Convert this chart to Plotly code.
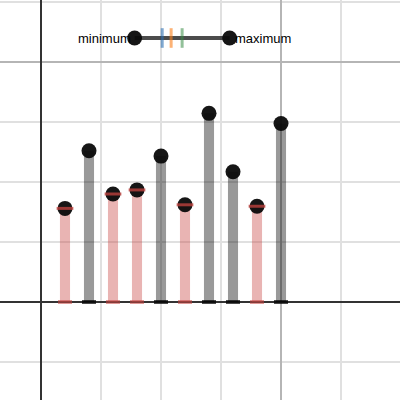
import plotly.graph_objects as go

# bar positions and heights
positions = [1, 2, 3, 4, 5, 6, 7, 8, 9, 10]
heights = [3.9, 6.3, 4.5, 4.67, 6.08, 4.05, 7.86, 5.43, 3.99, 7.44]
below = [True, False, True, True, False, True, False, False, True, False]

summary_y = 11.0
red = 'rgba(199,68,64,0.4)'
gray = 'rgba(0,0,0,0.4)'
bar_colors = [red if b else gray for b in below]
cap_colors = ['rgba(199,68,64,0.55)' if b else 'rgba(0,0,0,0.7)' for b in below]

# summary stats for the top strip
lo = min(heights)
hi = max(heights)
srt = sorted(heights)
median = (srt[4] + srt[5]) / 2
mean = sum(heights) / len(heights)
midrange = (lo + hi) / 2

fig = go.Figure()

# bars
fig.add_trace(go.Bar(x=positions, y=heights, width=0.42,
	marker=dict(color=bar_colors, line=dict(width=0))))

# caps at the base
fig.add_trace(go.Scatter(x=positions, y=[0]*len(positions), mode='markers',
	marker=dict(symbol='line-ew', size=10, line=dict(width=4, color=cap_colors))))

# dots at the top
fig.add_trace(go.Scatter(x=positions, y=heights, mode='markers',
	marker=dict(size=15, color='rgba(10,10,10,0.95)', line=dict(width=0))))

# red stripe on red dots
rx = [p for p, b in zip(positions, below) if b]
ry = [h for h, b in zip(heights, below) if b]
fig.add_trace(go.Scatter(x=rx, y=ry, mode='markers',
	marker=dict(symbol='line-ew', size=12, line=dict(width=3, color='rgba(199,68,64,0.75)'))))

# summary strip: min to max
fig.add_trace(go.Scatter(x=[lo, hi], y=[summary_y, summary_y], mode='lines+markers',
	line=dict(color='rgba(0,0,0,0.7)', width=4),
	marker=dict(size=15, color='rgba(10,10,10,0.95)')))
tick_x = [median, mean, midrange]
tick_c = ['rgba(45,112,179,0.6)', 'rgba(250,126,25,0.6)', 'rgba(56,140,70,0.55)']
for tx, tc in zip(tick_x, tick_c):
	fig.add_trace(go.Scatter(x=[tx], y=[summary_y], mode='markers',
		marker=dict(symbol='line-ns', size=14, line=dict(width=3, color=tc))))

fig.add_annotation(x=lo, y=summary_y, text='minimum', showarrow=False,
	xanchor='right', yanchor='middle', xshift=-2, yshift=-1,
	font=dict(family='Liberation Sans, Arial', size=13, color='black'))
fig.add_annotation(x=hi, y=summary_y, text='maximum', showarrow=False,
	xanchor='left', yanchor='middle', xshift=3, yshift=-1,
	font=dict(family='Liberation Sans, Arial', size=13, color='black'))

axis_style = dict(dtick=10, gridcolor='#b5b5b5', gridwidth=2,
	showticklabels=False, ticks='', zeroline=True, zerolinecolor='#333333', zerolinewidth=2,
	minor=dict(dtick=2.5, showgrid=True, gridcolor='#e0e0e0', gridwidth=2),
	showline=False, fixedrange=True)

fig.update_layout(width=400, height=400, margin=dict(l=0, r=0, t=0, b=0),
	paper_bgcolor='white', plot_bgcolor='white', showlegend=False,
	xaxis=dict(range=[-1.708, 14.958], **axis_style),
	yaxis=dict(range=[-4.083, 12.583], **axis_style))

# drop the page margin so the plot fills the window
fig.write_html("out.html", config={'displayModeBar': False},
	post_script="document.body.style.margin='0';")
